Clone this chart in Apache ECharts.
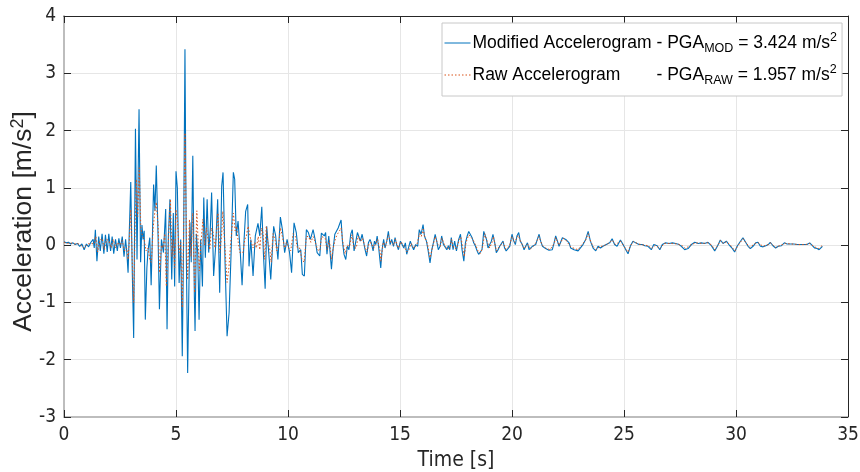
<!DOCTYPE html>
<html><head><meta charset="utf-8">
<script src="https://cdn.jsdelivr.net/npm/echarts@6/dist/echarts.min.js"></script>
<style>html,body{margin:0;padding:0;background:#fff}#c{width:860px;height:472px}</style>
</head><body><div id="c"></div>
<script>
// ---- Modified accelerogram (blue) ----
const timeMod = [0.00,0.10,0.20,0.30,0.40,0.50,0.60,0.70,0.80,0.90,1.00,1.10,1.20,1.30,1.35,1.40,1.47,1.55,1.62,1.70,1.78,1.85,1.93,2.00,2.08,2.15,2.22,2.30,2.38,2.45,2.52,2.60,2.68,2.75,2.80,2.86,2.92,2.98,3.05,3.11,3.19,3.26,3.35,3.42,3.48,3.53,3.58,3.63,3.70,3.75,3.83,3.89,3.95,4.00,4.06,4.12,4.20,4.26,4.35,4.44,4.54,4.60,4.66,4.73,4.81,4.88,4.94,5.00,5.06,5.14,5.21,5.28,5.34,5.40,5.46,5.52,5.62,5.68,5.75,5.82,5.85,5.91,5.97,6.03,6.10,6.18,6.24,6.31,6.39,6.46,6.53,6.59,6.68,6.77,6.86,6.95,7.04,7.10,7.19,7.28,7.37,7.46,7.56,7.62,7.69,7.77,7.87,7.95,8.04,8.11,8.20,8.26,8.34,8.44,8.54,8.66,8.74,8.83,8.90,8.98,9.05,9.14,9.23,9.36,9.45,9.55,9.66,9.75,9.85,9.96,10.07,10.16,10.27,10.37,10.46,10.57,10.64,10.73,10.82,10.91,11.00,11.12,11.21,11.30,
11.42,11.49,11.56,11.62,11.68,11.74,11.82,11.88,11.94,12.01,12.09,12.16,12.24,12.31,12.37,12.43,12.50,12.58,12.65,12.72,12.80,12.87,12.95,13.02,13.10,13.16,13.23,13.31,13.37,13.44,13.51,13.59,13.66,13.72,13.80,13.86,13.92,13.98,14.05,14.14,14.20,14.27,14.33,14.41,14.48,14.56,14.63,14.71,14.78,14.85,14.93,15.02,15.09,15.17,15.24,15.30,15.37,15.46,15.54,15.61,15.70,15.79,15.86,15.94,16.03,16.09,16.18,16.25,16.34,16.42,16.49,16.57,16.64,16.71,16.79,16.86,16.94,17.01,17.09,17.16,
17.22,17.29,17.37,17.44,17.52,17.62,17.70,17.77,17.85,17.92,18.00,18.07,18.14,18.22,18.29,18.37,18.44,18.51,18.59,18.66,18.74,18.80,18.86,18.93,19.00,19.08,19.15,19.23,19.30,19.38,19.45,19.52,19.60,19.67,19.74,19.82,19.90,20.00,20.08,20.15,20.22,20.30,20.37,20.46,20.54,20.61,20.69,20.76,20.83,20.91,20.98,21.06,21.13,21.21,21.28,21.36,21.43,21.50,21.58,21.65,21.73,21.80,21.88,21.95,22.03,22.10,22.18,22.25,22.32,22.40,22.47,22.55,22.62,22.70,22.77,22.85,22.95,
23.02,23.17,23.29,23.40,23.50,23.62,23.74,23.84,23.95,24.06,24.21,24.36,24.47,24.58,24.69,24.84,24.96,25.08,25.18,25.28,25.40,25.52,25.67,25.82,25.93,26.07,26.22,26.33,26.48,26.60,26.71,26.86,27.01,27.16,27.31,27.46,27.56,27.71,27.86,28.01,28.16,28.31,28.45,28.60,28.75,28.90,29.05,29.17,29.30,29.42,29.57,29.72,29.84,29.94,30.05,30.17,30.31,30.43,30.54,30.64,30.76,30.88,30.98,31.09,31.21,31.33,31.44,31.53,31.65,31.77,31.89,32.03,32.16,32.28,32.43,32.58,32.73,32.87,33.02,33.17,33.29,33.41,33.51,33.62,33.71,33.77,33.86];
const accMod = [0.06,0.04,0.05,0.02,0.04,0.01,0.03,-0.02,0.02,-0.08,0.02,-0.03,0.05,0.10,-0.05,0.27,-0.28,0.15,-0.10,0.20,-0.15,0.18,-0.12,0.20,-0.10,0.15,-0.15,0.10,-0.10,0.12,-0.05,0.15,-0.20,0.10,-0.10,-0.48,0.30,1.10,-0.50,-1.62,2.03,-0.25,2.37,-0.30,0.35,0.10,0.25,-1.30,-0.40,-0.10,0.13,-0.70,0.20,1.06,0.60,1.39,0.15,-1.12,0.10,-0.13,0.63,-1.47,0.15,0.80,-0.60,0.56,-0.72,1.29,1.00,-0.66,0.10,-1.94,0.10,3.42,-0.13,-2.23,0.40,-0.30,1.56,-0.90,-1.50,0.20,-0.13,-1.30,0.10,-0.72,0.83,-0.22,0.80,-0.13,0.27,0.92,-0.54,-0.02,0.80,-0.83,1.03,1.27,-0.30,-1.59,-1.18,-0.13,1.27,1.15,0.16,0.42,-0.13,-0.70,0.10,0.59,0.71,-0.37,0.10,-0.54,0.16,0.38,0.16,0.67,-0.13,-0.76,0.33,-0.13,-0.60,0.33,0.16,-0.25,0.49,0.27,-0.13,0.10,-0.13,-0.48,0.39,0.22,-0.13,-0.08,-0.51,-0.54,0.27,0.22,0.10,0.27,0.10,-0.13,
-0.19,0.21,0.24,0.16,0.22,-0.16,0.16,-0.13,-0.42,-0.08,0.19,0.16,0.30,0.33,0.44,0.07,-0.16,-0.25,-0.02,-0.08,0.19,0.27,-0.10,-0.13,0.22,0.24,0.07,0.19,0.16,-0.08,-0.19,0.04,0.10,0.04,-0.10,0.07,0.01,0.16,-0.05,-0.40,-0.08,0.10,-0.05,0.07,0.24,0.01,0.10,-0.02,0.13,0.01,-0.08,0.07,0.09,-0.05,0.04,-0.16,-0.16,0.07,-0.02,-0.08,0.01,-0.02,0.27,0.19,0.36,0.16,0.07,-0.08,-0.31,-0.08,0.04,0.19,0.07,-0.08,-0.02,0.16,0.01,0.04,-0.08,-0.01,
-0.08,0.13,-0.08,0.07,-0.10,0.10,0.19,-0.08,-0.28,0.04,0.16,0.24,0.21,0.13,0.04,-0.02,-0.10,-0.16,-0.19,-0.08,0.24,0.27,0.10,-0.05,-0.08,0.07,0.19,0.04,-0.13,-0.08,-0.02,-0.05,0.07,-0.05,-0.10,-0.08,-0.02,0.19,0.07,0.01,0.16,0.22,0.07,0.01,-0.08,-0.02,0.04,-0.08,-0.10,-0.02,-0.02,0.01,0.10,0.19,0.07,-0.02,-0.05,-0.06,-0.08,-0.09,-0.10,-0.08,0.04,0.16,0.07,-0.02,0.01,0.13,0.16,0.10,0.13,0.04,-0.05,-0.02,-0.08,-0.08,-0.10,
-0.10,0.01,0.10,0.24,0.07,-0.05,-0.10,-0.02,-0.05,-0.02,0.01,0.04,0.11,0.01,-0.02,0.09,0.01,-0.08,-0.15,-0.02,0.07,0.04,0.01,0.01,-0.01,-0.02,-0.08,0.01,-0.01,-0.08,0.01,0.04,0.03,0.04,0.03,0.01,-0.02,-0.08,-0.06,0.01,0.05,0.03,0.04,0.03,0.05,-0.01,-0.10,-0.02,0.09,0.03,0.07,-0.01,-0.06,-0.12,-0.02,0.05,0.13,0.05,-0.02,-0.06,-0.02,0.04,0.05,-0.02,-0.03,-0.01,0.01,0.05,-0.01,-0.05,-0.02,-0.01,0.04,0.02,0.02,0.02,0.01,0.01,0.01,0.01,0.04,-0.01,-0.05,-0.06,-0.08,-0.09,-0.02];

// ---- Raw accelerogram (orange, dotted) ----
const timeRaw = [0.00,0.15,0.30,0.45,0.60,0.75,0.90,1.05,1.20,1.35,1.42,1.50,1.60,1.70,1.80,1.90,2.00,2.10,2.20,2.30,2.40,2.50,2.60,2.70,2.80,2.86,2.92,2.98,3.05,3.11,3.18,3.23,3.29,3.36,3.43,3.50,3.58,3.66,3.75,3.83,3.90,3.98,4.06,4.12,4.20,4.27,4.35,4.42,4.50,4.57,4.65,4.75,4.82,4.88,4.94,5.00,5.07,5.14,5.21,5.28,5.34,5.40,5.47,5.52,5.60,5.67,5.75,5.83,5.93,6.04,6.12,6.20,6.28,6.36,6.45,6.51,6.58,6.66,6.74,6.80,6.87,6.96,7.04,7.09,7.18,7.28,7.36,7.43,7.50,7.56,7.64,7.70,7.78,7.85,7.92,7.99,8.07,8.14,8.22,8.29,8.36,8.44,8.52,8.59,8.67,8.74,8.82,8.89,8.96,9.03,9.10,9.18,9.25,9.33,9.42,9.50,9.58,9.66,9.75,9.85,9.93,10.03,10.12,10.23,10.33,10.42,10.52,10.62,10.72,10.82,10.92,11.02,11.12,11.22,11.32,11.42,11.50,11.58,11.66,11.75,11.85,11.94,12.02,12.12,12.22,12.30,12.37,12.45,12.55,12.65,12.75,12.85,12.95,13.05,13.13,13.23,13.33,13.45,13.53,13.62,13.72,13.82,13.92,14.00,14.10,14.15,14.25,14.35,14.48,14.60,14.72,14.80,14.92,15.05,15.18,15.30,15.40,15.50,15.62,15.75,15.87,15.95,16.03,16.12,16.22,16.34,16.45,16.57,16.68,16.80,16.87,16.97,17.09,17.22,17.30,17.40,17.52,17.65,17.72,17.80,17.87,17.95,18.07,18.15,18.25,18.38,18.50,18.60,18.68,18.78,18.88,19.00,19.12,19.17,19.30,19.45,19.60,19.72,19.88,20.00,20.12,20.28,20.40,20.55,20.70,20.82,21.00,21.12,21.20,21.35,21.50,21.70,21.88,21.95,22.10,22.28,22.40,22.48,22.62,22.80,22.95,23.10,23.28,23.40,23.52,23.65,23.75,23.90,24.10,24.30,24.47,24.62,24.84,25.05,25.18,25.30,25.42,25.65,25.90,26.10,26.22,26.40,26.60,26.80,27.10,27.40,27.60,27.75,27.95,28.20,28.50,28.75,28.92,29.05,29.18,29.30,29.45,29.58,29.75,29.95,30.10,30.31,30.45,30.62,30.85,31.00,31.20,31.45,31.55,31.76,32.00,32.20,32.50,32.80,33.10,33.30,33.50,33.70,33.86];
const accRaw = [0.05,0.03,0.04,0.02,0.03,0.00,-0.05,0.02,0.03,0.02,0.15,-0.12,0.08,0.12,-0.08,0.10,0.08,-0.05,0.10,-0.05,0.05,0.00,0.08,-0.10,-0.05,-0.25,0.10,0.62,-0.30,-1.00,0.40,1.15,0.50,1.35,0.30,0.16,0.10,-0.10,-0.05,-0.25,-0.30,0.30,0.60,0.75,0.35,-0.48,0.00,-0.05,0.20,-0.72,0.00,0.80,-0.20,0.10,-0.40,0.62,0.40,-0.13,0.05,-1.09,0.20,1.96,0.10,-0.60,0.45,-0.20,0.56,-0.83,0.60,-0.45,0.05,0.45,0.00,0.30,0.05,-0.08,0.30,0.22,-0.05,0.15,0.56,-0.13,0.20,0.59,0.00,-0.65,-0.40,-0.02,0.30,0.56,0.25,0.33,0.05,-0.13,-0.10,-0.13,0.10,0.16,0.33,0.30,0.05,-0.05,0.05,-0.05,0.15,-0.08,0.30,0.20,-0.25,0.33,0.05,-0.05,-0.30,0.20,0.10,-0.10,0.00,0.30,0.15,-0.05,0.05,-0.05,-0.10,0.20,0.15,-0.05,-0.05,-0.25,-0.30,0.15,0.15,0.05,0.15,0.05,-0.08,-0.10,0.15,0.18,0.12,-0.08,0.08,-0.25,-0.05,0.12,0.20,0.25,0.30,0.05,-0.15,0.00,-0.02,0.18,-0.05,-0.05,0.16,0.06,0.12,-0.05,-0.12,0.04,0.04,-0.06,0.03,0.10,-0.08,-0.28,0.05,-0.02,0.17,0.05,0.00,0.10,-0.05,0.06,-0.02,-0.12,-0.08,0.03,-0.05,0.00,0.20,0.15,0.28,0.12,0.03,-0.22,-0.05,0.15,0.02,-0.02,0.12,0.02,-0.06,-0.05,0.10,-0.05,-0.06,0.10,0.14,-0.05,-0.20,0.05,0.18,0.16,0.10,0.00,-0.12,-0.14,-0.04,0.20,0.08,-0.05,0.06,0.15,-0.10,-0.02,0.05,-0.07,-0.02,0.15,0.05,0.17,0.05,-0.06,0.02,-0.07,0.00,0.08,0.15,0.00,-0.05,-0.08,0.03,0.13,0.00,0.12,0.09,0.10,-0.03,-0.06,-0.08,0.00,0.08,0.20,0.06,-0.04,-0.08,-0.03,-0.01,0.03,0.09,0.01,0.07,-0.05,-0.12,0.00,0.06,0.02,0.00,-0.01,-0.06,0.00,-0.06,0.03,0.03,0.02,-0.01,-0.06,0.00,0.04,0.03,0.04,0.00,-0.08,-0.01,0.08,0.03,0.06,0.00,-0.10,0.00,0.11,0.04,-0.04,0.03,0.04,-0.02,0.01,0.04,-0.04,0.00,0.03,0.02,0.01,0.01,0.03,-0.03,-0.06,0.00];

// ---- axes ----
const xTicks = [0, 5, 10, 15, 20, 25, 30, 35];
const yTicks = [-3, -2, -1, 0, 1, 2, 3, 4];
const pgaMod = '3.424';
const pgaRaw = '1.957';

const modData = timeMod.map((t, i) => [t, accMod[i]]);
const rawData = timeRaw.map((t, i) => [t, accRaw[i]]);

const FONT = "'Liberation Sans', Arial, Helvetica, sans-serif";
const NARROW = "'DejaVu Sans Condensed', 'Liberation Sans', sans-serif";
const INK = '#262626';
const xStep = xTicks[1] - xTicks[0];
const yStep = yTicks[1] - yTicks[0];

const legRich = {
  a: { fontFamily: FONT, fontSize: 17.5, color: '#000', width: 184, lineHeight: 24 },
  n: { fontFamily: FONT, fontSize: 17.5, color: '#000', lineHeight: 24 },
  s: { fontFamily: FONT, fontSize: 12.5, color: '#000', lineHeight: 12, verticalAlign: 'bottom' },
  p: { fontFamily: FONT, fontSize: 12.5, color: '#000', lineHeight: 12, verticalAlign: 'top' }
};

const chart = echarts.init(document.getElementById('c'), null, { renderer: 'canvas' });
chart.setOption({
  animation: false,
  backgroundColor: '#ffffff',
  grid: { left: 64, right: 12, top: 16, bottom: 55, containLabel: false, outerBoundsMode: 'none' },
  legend: {
    orient: 'vertical',
    left: 442, top: 23,
    padding: [8, 5, 9, 2],
    itemGap: 8,
    itemWidth: 26, itemHeight: 14,
    backgroundColor: '#ffffff',
    borderColor: '#c8c8c8', borderWidth: 1, borderRadius: 0,
    itemStyle: { opacity: 0 },
    lineStyle: { width: 1 },
    data: ['Modified Accelerogram', 'Raw Accelerogram'],
    formatter: function (name) {
      if (name === 'Modified Accelerogram') {
        return '{a|Modified Accelerogram}{n|- PGA}{s|MOD}{n| = ' + pgaMod + ' m/s}{p|2}';
      }
      return '{a|Raw Accelerogram}{n|- PGA}{s|RAW}{n| = ' + pgaRaw + ' m/s}{p|2}';
    },
    textStyle: { rich: legRich, padding: [0, 0, 0, -3] }
  },
  xAxis: [{
    type: 'value', min: xTicks[0], max: xTicks[xTicks.length - 1], interval: xStep,
    position: 'bottom',
    axisLine: { show: true, onZero: false, lineStyle: { color: '#bdbdbd', width: 2 } },
    axisTick: { show: true, inside: true, length: 7, lineStyle: { color: INK, width: 1 } },
    axisLabel: { fontFamily: NARROW, fontSize: 19, color: INK, margin: 9 },
    splitLine: { show: true, lineStyle: { color: '#e6e6e6', width: 1 } },
    name: 'Time [s]', nameLocation: 'middle', nameGap: 33, nameMoveOverlap: false,
    nameTextStyle: { fontFamily: NARROW, fontSize: 21, color: INK }
  }, {
    type: 'value', min: xTicks[0], max: xTicks[xTicks.length - 1], interval: xStep,
    position: 'top',
    axisLine: { show: true, onZero: false, lineStyle: { color: INK, width: 1 } },
    axisTick: { show: true, inside: true, length: 7, lineStyle: { color: INK, width: 1 } },
    axisLabel: { show: false }, splitLine: { show: false }
  }],
  yAxis: [{
    type: 'value', min: yTicks[0], max: yTicks[yTicks.length - 1], interval: yStep,
    position: 'left',
    axisLine: { show: true, onZero: false, lineStyle: { color: '#bdbdbd', width: 2 } },
    axisTick: { show: true, inside: true, length: 7, lineStyle: { color: INK, width: 1 } },
    axisLabel: { fontFamily: NARROW, fontSize: 19, color: INK, margin: 8 },
    splitLine: { show: true, lineStyle: { color: '#e6e6e6', width: 1 } },
    name: '{n|Acceleration [m/s}{p|2}{n|]}', nameLocation: 'middle', nameGap: 25, nameRotate: 90,
    nameMoveOverlap: false,
    nameTextStyle: {
      padding: [0, 10, 0, 0],
      rich: {
        n: { fontFamily: FONT, fontSize: 26.5, color: INK, lineHeight: 30 },
        p: { fontFamily: FONT, fontSize: 18, color: INK, lineHeight: 18, verticalAlign: 'top' }
      }
    }
  }, {
    type: 'value', min: yTicks[0], max: yTicks[yTicks.length - 1], interval: yStep,
    position: 'right',
    axisLine: { show: true, onZero: false, lineStyle: { color: INK, width: 1 } },
    axisTick: { show: true, inside: true, length: 7, lineStyle: { color: INK, width: 1 } },
    axisLabel: { show: false }, splitLine: { show: false }
  }],
  series: [{
    name: 'Modified Accelerogram', type: 'line', xAxisIndex: 0, yAxisIndex: 0,
    data: modData, symbol: 'none', showSymbol: false,
    lineStyle: { color: '#0072BD', width: 1.1 }, itemStyle: { color: '#0072BD' }
  }, {
    name: 'Raw Accelerogram', type: 'line', xAxisIndex: 0, yAxisIndex: 0,
    data: rawData, symbol: 'none', showSymbol: false,
    lineStyle: { color: '#D95319', width: 1, type: [1.5, 2] }, itemStyle: { color: '#D95319' }
  }]
});
</script>
</body></html>
